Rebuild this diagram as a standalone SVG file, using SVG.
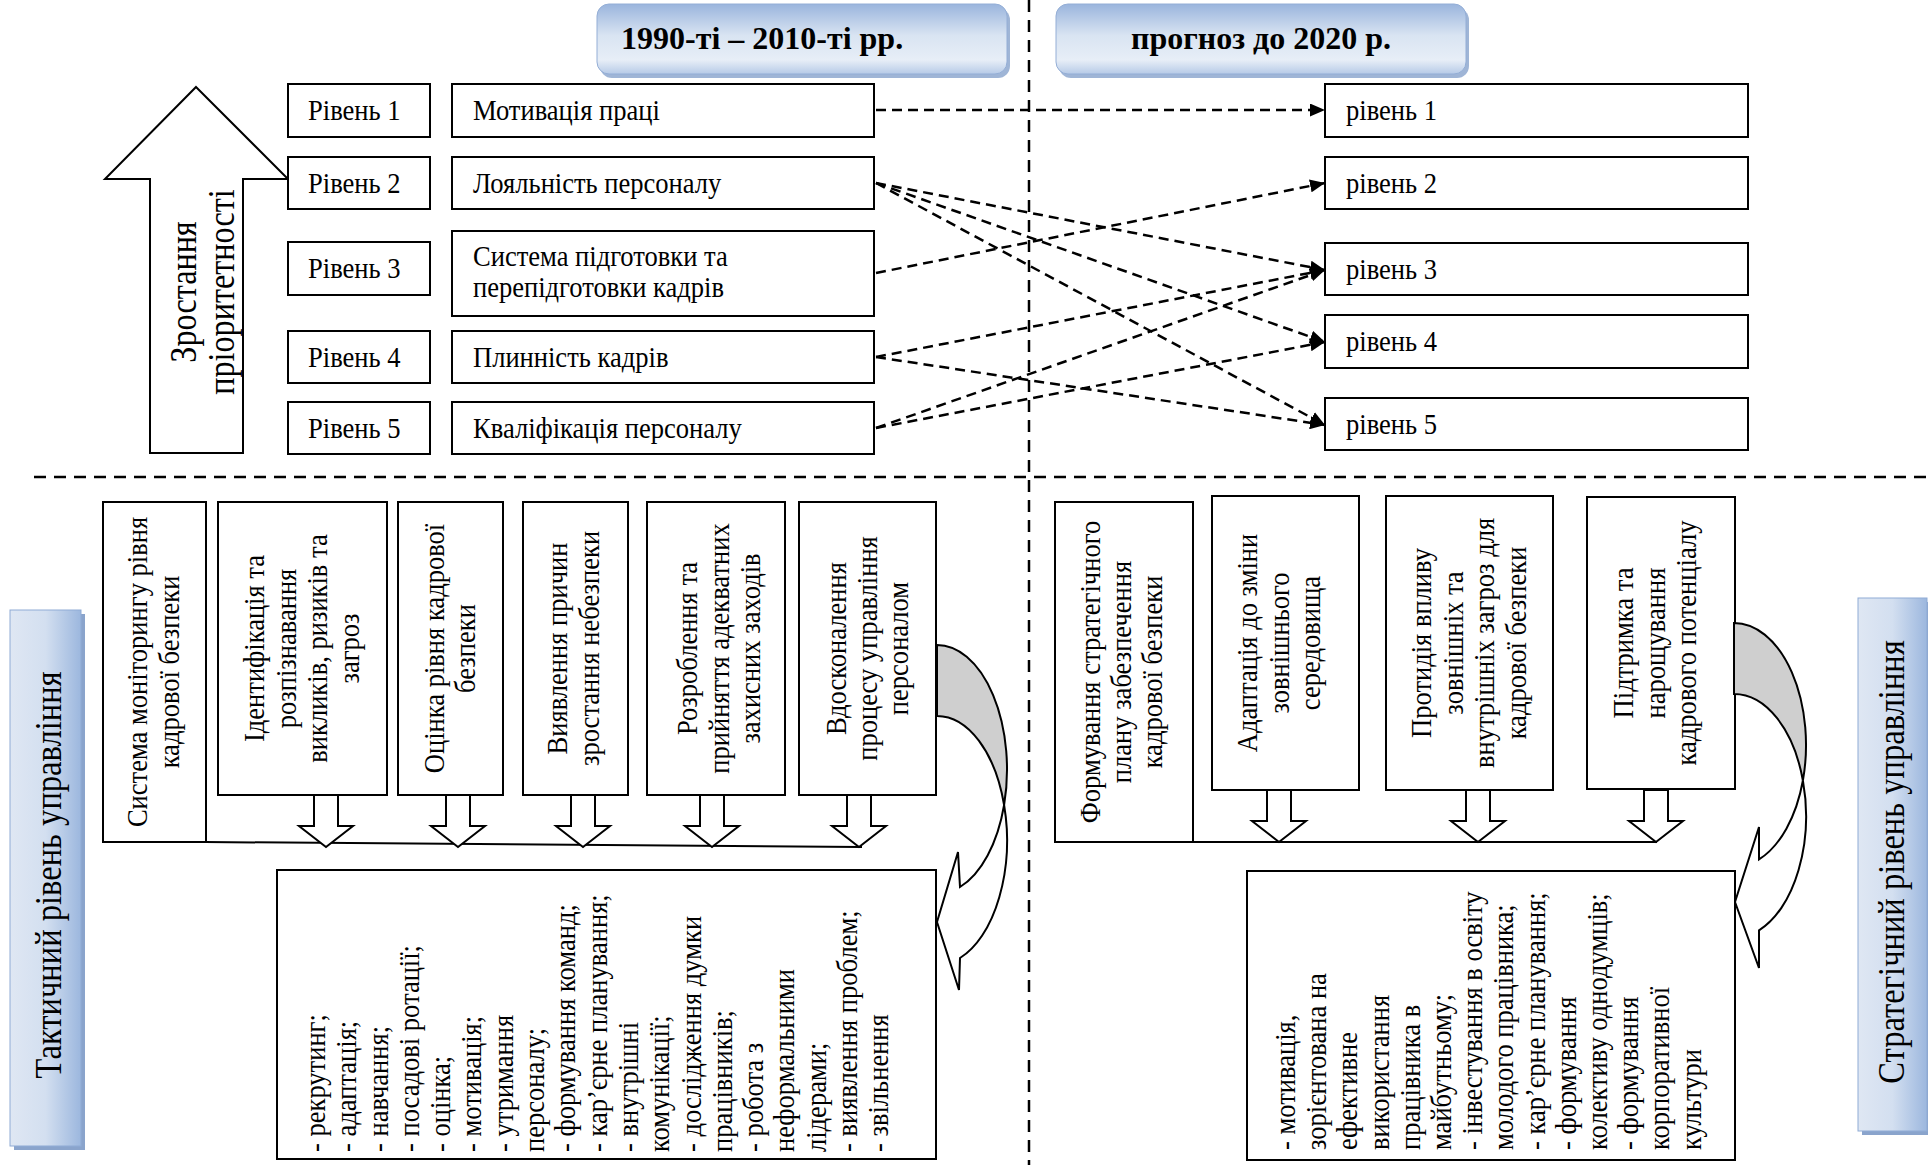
<svg xmlns="http://www.w3.org/2000/svg" width="1928" height="1165" viewBox="0 0 1928 1165">
<defs>
<style>
.box{fill:#fff;stroke:#000;stroke-width:2}
.t{font-family:"Liberation Serif","Times New Roman",serif;font-size:29.5px;fill:#000}
.rt{font-family:"Liberation Serif","Times New Roman",serif;font-size:29.5px;fill:#000;text-anchor:middle}
.lt{font-family:"Liberation Serif","Times New Roman",serif;font-size:29.5px;fill:#000}
.big{font-family:"Liberation Serif","Times New Roman",serif;font-size:37px;fill:#000;text-anchor:middle}
.ttl{font-family:"Liberation Serif","Times New Roman",serif;font-size:32px;font-weight:bold;fill:#000}
.dash{fill:none;stroke:#000;stroke-width:2.5;stroke-dasharray:10 6}
.sep{fill:none;stroke:#000;stroke-width:2.5;stroke-dasharray:12 8}
.hollow{fill:#fff;stroke:#000;stroke-width:2;stroke-linejoin:miter}
.line{fill:none;stroke:#000;stroke-width:2}
.gray{fill:#cfcfcf;stroke:#000;stroke-width:2}
</style>
<linearGradient id="gTitle" x1="0" y1="0" x2="0" y2="1">
<stop offset="0" stop-color="#9ab5dd"/>
<stop offset="0.45" stop-color="#d9e4f2"/>
<stop offset="0.8" stop-color="#e7eef7"/>
<stop offset="1" stop-color="#b6cae7"/>
</linearGradient>
<linearGradient id="gSide" x1="0" y1="0" x2="1" y2="0">
<stop offset="0" stop-color="#dfe7f3"/>
<stop offset="0.5" stop-color="#d3dff0"/>
<stop offset="1" stop-color="#9cb7de"/>
</linearGradient>
<marker id="ah" markerUnits="userSpaceOnUse" markerWidth="16" markerHeight="13" refX="15" refY="6.5" orient="auto">
<path d="M0,0 L15,6.5 L0,13 Z" fill="#000"/>
</marker>
</defs>
<rect width="1928" height="1165" fill="#fff"/>

<g id="separators">
<path class="sep" d="M1029,0 V1165"/>
<path class="sep" d="M34,477 H1928"/>
</g>

<g id="title-1990">
<rect x="600" y="8" width="410" height="70" rx="12" fill="#7f9cc8" opacity="0.75"/>
<rect x="597" y="4" width="410" height="70" rx="12" fill="url(#gTitle)" stroke="#94aed6" stroke-width="1"/>
<text class="ttl" x="621" y="49">1990-ті – 2010-ті рр.</text>
</g>
<g id="title-2020">
<rect x="1059" y="8" width="410" height="70" rx="12" fill="#7f9cc8" opacity="0.75"/>
<rect x="1056" y="4" width="410" height="70" rx="12" fill="url(#gTitle)" stroke="#94aed6" stroke-width="1"/>
<text class="ttl" x="1261" y="49" text-anchor="middle">прогноз до 2020 р.</text>
</g>

<g id="priority-arrow">
<polygon class="hollow" points="196,87 288,179 243,179 243,453 150,453 150,179 105,179"/>
<text class="big" transform="translate(196 292) rotate(-90) scale(0.87 1)"><tspan x="0" y="0">Зростання</tspan><tspan x="0" y="38">пріоритетності</tspan></text>
</g>

<g id="level-1"><rect class="box" x="288" y="84" width="142" height="53"/><text class="t" transform="translate(308 120) scale(0.9 1)">Рівень 1</text></g>
<g id="level-2"><rect class="box" x="288" y="157" width="142" height="52"/><text class="t" transform="translate(308 192.5) scale(0.9 1)">Рівень 2</text></g>
<g id="level-3"><rect class="box" x="288" y="242" width="142" height="53"/><text class="t" transform="translate(308 278) scale(0.9 1)">Рівень 3</text></g>
<g id="level-4"><rect class="box" x="288" y="331" width="142" height="52"/><text class="t" transform="translate(308 366.5) scale(0.9 1)">Рівень 4</text></g>
<g id="level-5"><rect class="box" x="288" y="402" width="142" height="52"/><text class="t" transform="translate(308 437.5) scale(0.9 1)">Рівень 5</text></g>

<g id="item-motivation"><rect class="box" x="452" y="84" width="422" height="53"/><text class="t" transform="translate(473 120) scale(0.9 1)">Мотивація праці</text></g>
<g id="item-loyalty"><rect class="box" x="452" y="157" width="422" height="52"/><text class="t" transform="translate(473 192.5) scale(0.9 1)">Лояльність персоналу</text></g>
<g id="item-training"><rect class="box" x="452" y="231" width="422" height="85"/><text class="t" transform="translate(473 266) scale(0.9 1)"><tspan x="0" y="0">Система підготовки та</tspan><tspan x="0" y="31">перепідготовки кадрів</tspan></text></g>
<g id="item-turnover"><rect class="box" x="452" y="331" width="422" height="52"/><text class="t" transform="translate(473 366.5) scale(0.9 1)">Плинність кадрів</text></g>
<g id="item-qualification"><rect class="box" x="452" y="402" width="422" height="52"/><text class="t" transform="translate(473 437.5) scale(0.9 1)">Кваліфікація персоналу</text></g>

<g id="forecast-1"><rect class="box" x="1325" y="84" width="423" height="53"/><text class="t" transform="translate(1346 120) scale(0.9 1)">рівень 1</text></g>
<g id="forecast-2"><rect class="box" x="1325" y="157" width="423" height="52"/><text class="t" transform="translate(1346 192.5) scale(0.9 1)">рівень 2</text></g>
<g id="forecast-3"><rect class="box" x="1325" y="243" width="423" height="52"/><text class="t" transform="translate(1346 278.5) scale(0.9 1)">рівень 3</text></g>
<g id="forecast-4"><rect class="box" x="1325" y="315" width="423" height="53"/><text class="t" transform="translate(1346 351) scale(0.9 1)">рівень 4</text></g>
<g id="forecast-5"><rect class="box" x="1325" y="398" width="423" height="52"/><text class="t" transform="translate(1346 433.5) scale(0.9 1)">рівень 5</text></g>

<g id="tactical-label">
<rect x="14" y="614" width="71" height="536" fill="#8aa4cc"/>
<rect x="10" y="610" width="71" height="536" fill="url(#gSide)" stroke="#8fabd5" stroke-width="1"/>
<text class="big" transform="translate(61 875) rotate(-90) scale(0.88 1)">Тактичний рівень управління</text>
</g>
<g id="strategic-label">
<rect x="1862" y="602" width="69" height="533" fill="#8aa4cc"/>
<rect x="1858" y="598" width="69" height="533" fill="url(#gSide)" stroke="#8fabd5" stroke-width="1"/>
<text class="big" transform="translate(1904 862) rotate(-90) scale(0.88 1)">Стратегічний рівень управління</text>
</g>

<g id="t-monitoring"><rect class="box" x="103" y="502" width="103" height="340"/><text class="rt" transform="translate(154.5 672) rotate(-90) scale(0.9 1)"><tspan x="0" y="-7.25">Система моніторингу рівня</tspan><tspan x="0" y="24.25">кадрової безпеки</tspan></text></g>
<g id="t-identification"><rect class="box" x="218" y="502" width="169" height="293"/><text class="rt" transform="translate(303 648.5) rotate(-90) scale(0.9 1)"><tspan x="0" y="-38.75">Ідентифікація та</tspan><tspan x="0" y="-7.25">розпізнавання</tspan><tspan x="0" y="24.25">викликів, ризиків та</tspan><tspan x="0" y="55.75">загроз</tspan></text></g>
<g id="t-assessment"><rect class="box" x="398" y="502" width="105" height="293"/><text class="rt" transform="translate(451 648.5) rotate(-90) scale(0.9 1)"><tspan x="0" y="-7.25">Оцінка рівня кадрової</tspan><tspan x="0" y="24.25">безпеки</tspan></text></g>
<g id="t-causes"><rect class="box" x="523" y="502" width="105" height="293"/><text class="rt" transform="translate(574.5 648.5) rotate(-90) scale(0.9 1)"><tspan x="0" y="-7.25">Виявлення причин</tspan><tspan x="0" y="24.25">зростання небезпеки</tspan></text></g>
<g id="t-measures"><rect class="box" x="647" y="502" width="138" height="293"/><text class="rt" transform="translate(720 648.5) rotate(-90) scale(0.9 1)"><tspan x="0" y="-23">Розроблення та</tspan><tspan x="0" y="8.5">прийняття адекватних</tspan><tspan x="0" y="40">захисних заходів</tspan></text></g>
<g id="t-improvement"><rect class="box" x="799" y="502" width="137" height="293"/><text class="rt" transform="translate(868.5 648.5) rotate(-90) scale(0.9 1)"><tspan x="0" y="-23">Вдосконалення</tspan><tspan x="0" y="8.5">процесу управління</tspan><tspan x="0" y="40">персоналом</tspan></text></g>

<g id="t-list"><rect class="box" x="277" y="870" width="659" height="289"/>
<text class="lt" transform="translate(325 1152) rotate(-90) scale(0.9 1)">
<tspan x="0" y="0">- рекрутинг;</tspan>
<tspan x="0" y="31.3">- адаптація;</tspan>
<tspan x="0" y="62.6">- навчання;</tspan>
<tspan x="0" y="93.9">- посадові ротації;</tspan>
<tspan x="0" y="125.2">- оцінка;</tspan>
<tspan x="0" y="156.5">- мотивація;</tspan>
<tspan x="0" y="187.8">- утримання</tspan>
<tspan x="0" y="219.1">персоналу;</tspan>
<tspan x="0" y="250.4">- формування команд;</tspan>
<tspan x="0" y="281.7">- кар’єрне планування;</tspan>
<tspan x="0" y="313">- внутрішні</tspan>
<tspan x="0" y="344.3">комунікації;</tspan>
<tspan x="0" y="375.6">- дослідження думки</tspan>
<tspan x="0" y="406.9">працівників;</tspan>
<tspan x="0" y="438.2">- робота з</tspan>
<tspan x="0" y="469.5">неформальними</tspan>
<tspan x="0" y="500.8">лідерами;</tspan>
<tspan x="0" y="532.1">- виявлення проблем;</tspan>
<tspan x="0" y="563.4">- звільнення</tspan>
</text></g>

<g id="s-plan"><rect class="box" x="1055" y="502" width="138" height="340"/><text class="rt" transform="translate(1122.5 672) rotate(-90) scale(0.9 1)"><tspan x="0" y="-23">Формування стратегічного</tspan><tspan x="0" y="8.5">плану забезпечення</tspan><tspan x="0" y="40">кадрової безпеки</tspan></text></g>
<g id="s-adaptation"><rect class="box" x="1212" y="496" width="147" height="294"/><text class="rt" transform="translate(1280 643) rotate(-90) scale(0.9 1)"><tspan x="0" y="-23">Адаптація до зміни</tspan><tspan x="0" y="8.5">зовнішнього</tspan><tspan x="0" y="40">середовища</tspan></text></g>
<g id="s-counteraction"><rect class="box" x="1386" y="496" width="167" height="294"/><text class="rt" transform="translate(1470 643) rotate(-90) scale(0.9 1)"><tspan x="0" y="-38.75">Протидія впливу</tspan><tspan x="0" y="-7.25">зовнішніх та</tspan><tspan x="0" y="24.25">внутрішніх загроз для</tspan><tspan x="0" y="55.75">кадрової безпеки</tspan></text></g>
<g id="s-support"><rect class="box" x="1587" y="497" width="148" height="292"/><text class="rt" transform="translate(1656 643) rotate(-90) scale(0.9 1)"><tspan x="0" y="-23">Підтримка та</tspan><tspan x="0" y="8.5">нарощування</tspan><tspan x="0" y="40">кадрового потенціалу</tspan></text></g>

<g id="s-list"><rect class="box" x="1247" y="871" width="488" height="289"/>
<text class="lt" transform="translate(1295 1150) rotate(-90) scale(0.9 1)">
<tspan x="0" y="0">- мотивація,</tspan>
<tspan x="0" y="31.2">зорієнтована на</tspan>
<tspan x="0" y="62.4">ефективне</tspan>
<tspan x="0" y="93.6">використання</tspan>
<tspan x="0" y="124.8">працівника в</tspan>
<tspan x="0" y="156">майбутньому;</tspan>
<tspan x="0" y="187.2">- інвестування в освіту</tspan>
<tspan x="0" y="218.4">молодого працівника;</tspan>
<tspan x="0" y="249.6">- кар’єрне планування;</tspan>
<tspan x="0" y="280.8">- формування</tspan>
<tspan x="0" y="312">колективу однодумців;</tspan>
<tspan x="0" y="343.2">- формування</tspan>
<tspan x="0" y="374.4">корпоративної</tspan>
<tspan x="0" y="405.6">культури</tspan>
</text></g>

<g id="connectors">
<path class="dash" d="M876,110 L1325,110" marker-end="url(#ah)"/>
<path class="dash" d="M876,183 L1325,270" marker-end="url(#ah)"/>
<path class="dash" d="M876,183 L1325,342" marker-end="url(#ah)"/>
<path class="dash" d="M876,183 L1325,425" marker-end="url(#ah)"/>
<path class="dash" d="M876,273 L1325,183" marker-end="url(#ah)"/>
<path class="dash" d="M876,357 L1325,270" marker-end="url(#ah)"/>
<path class="dash" d="M876,357 L1325,425" marker-end="url(#ah)"/>
<path class="dash" d="M876,428 L1325,270" marker-end="url(#ah)"/>
<path class="dash" d="M876,428 L1325,342" marker-end="url(#ah)"/>

<path class="line" d="M205,842 L862,847"/>
<polygon class="hollow" points="314,795 314,826 299,826 326,847 353,826 338,826 338,795"/>
<polygon class="hollow" points="446,795 446,826 431,826 458,847 485,826 470,826 470,795"/>
<polygon class="hollow" points="571,795 571,826 556,826 583,847 610,826 595,826 595,795"/>
<polygon class="hollow" points="700,795 700,826 685,826 712,847 739,826 724,826 724,795"/>
<polygon class="hollow" points="847,795 847,826 832,826 859,847 886,826 871,826 871,795"/>

<path class="line" d="M1193,842 L1657,842"/>
<polygon class="hollow" points="1267,790 1267,821 1252,821 1279,842 1306,821 1291,821 1291,790"/>
<polygon class="hollow" points="1466,790 1466,821 1451,821 1478,842 1505,821 1490,821 1490,790"/>
<polygon class="hollow" points="1644,790 1644,821 1629,821 1656,842 1683,821 1668,821 1668,790"/>

<path class="gray" d="M937,645 A70,124.5 0 0 1 1004.1,805 A70,124.5 0 0 0 937,716 Z"/>
<path class="hollow" d="M1004.1,805 A70,124.5 0 0 1 960,958 L959,990 L937,922 L958,852 L960,887 A70,124.5 0 0 0 1004.1,805 Z"/>

<path class="gray" d="M1734,623 A72,122 0 0 1 1802.9,780.5 A72,122 0 0 0 1734,694 Z"/>
<path class="hollow" d="M1802.9,780.5 A72,122 0 0 1 1759,930.4 L1759,968 L1735,902 L1759,827 L1759,859.4 A72,122 0 0 0 1802.9,780.5 Z"/>
</g>
</svg>
